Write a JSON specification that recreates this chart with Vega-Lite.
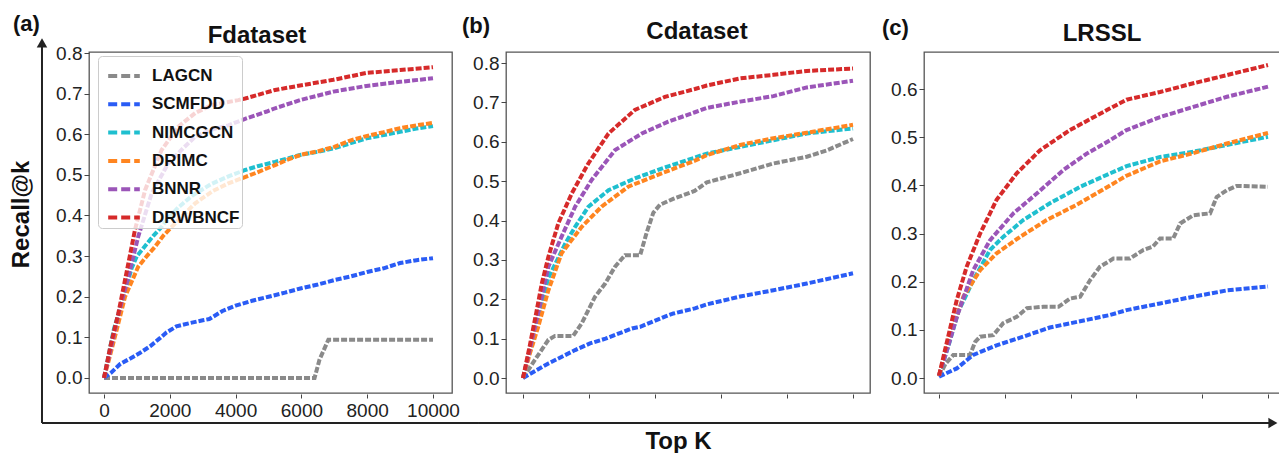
{
  "$schema": "https://vega.github.io/schema/vega-lite/v6.json",
  "padding": {"left": 8, "top": 12, "right": 0, "bottom": 0},
  "background": "white",
  "bounds": "flush",
  "spacing": 54,
  "resolve": {"scale": {"x": "independent", "y": "independent", "color": "independent"}, "legend": {"color": "independent"}},
  "config": {
    "font": "Liberation Sans",
    "view": {"stroke": "#555555", "strokeWidth": 1.3},
    "axis": {"labelFont": "Liberation Sans", "labelFontSize": 19, "labelColor": "#222222", "tickColor": "#444444", "tickSize": 5, "grid": false, "domain": false, "titleFont": "Liberation Sans", "titleFontWeight": "bold", "titleFontSize": 24, "titleColor": "#111111", "labelPadding": 2},
    "legend": {"labelFont": "Liberation Sans"},
    "text": {"font": "Liberation Sans", "fontWeight": "bold", "color": "#111111", "baseline": "alphabetic"}
  },
  "datasets": {
    "fd": [
      {"m": "LAGCN", "k": 0, "v": 0}, {"m": "LAGCN", "k": 6400, "v": 0}, {"m": "LAGCN", "k": 6550, "v": 0.045}, {"m": "LAGCN", "k": 6820, "v": 0.094}, {"m": "LAGCN", "k": 10000, "v": 0.094},
      {"m": "SCMFDD", "k": 0, "v": 0}, {"m": "SCMFDD", "k": 200, "v": 0.012}, {"m": "SCMFDD", "k": 500, "v": 0.035}, {"m": "SCMFDD", "k": 800, "v": 0.048}, {"m": "SCMFDD", "k": 1100, "v": 0.062}, {"m": "SCMFDD", "k": 1400, "v": 0.078}, {"m": "SCMFDD", "k": 1700, "v": 0.098}, {"m": "SCMFDD", "k": 1900, "v": 0.112}, {"m": "SCMFDD", "k": 2200, "v": 0.127}, {"m": "SCMFDD", "k": 2600, "v": 0.135}, {"m": "SCMFDD", "k": 3000, "v": 0.142}, {"m": "SCMFDD", "k": 3200, "v": 0.145}, {"m": "SCMFDD", "k": 3600, "v": 0.165}, {"m": "SCMFDD", "k": 4000, "v": 0.178}, {"m": "SCMFDD", "k": 4500, "v": 0.19}, {"m": "SCMFDD", "k": 5000, "v": 0.2}, {"m": "SCMFDD", "k": 5500, "v": 0.21}, {"m": "SCMFDD", "k": 6000, "v": 0.221}, {"m": "SCMFDD", "k": 6500, "v": 0.23}, {"m": "SCMFDD", "k": 7000, "v": 0.241}, {"m": "SCMFDD", "k": 7500, "v": 0.25}, {"m": "SCMFDD", "k": 8000, "v": 0.261}, {"m": "SCMFDD", "k": 8500, "v": 0.27}, {"m": "SCMFDD", "k": 9000, "v": 0.283}, {"m": "SCMFDD", "k": 9500, "v": 0.29}, {"m": "SCMFDD", "k": 10000, "v": 0.295},
      {"m": "NIMCGCN", "k": 0, "v": 0}, {"m": "NIMCGCN", "k": 150, "v": 0.06}, {"m": "NIMCGCN", "k": 300, "v": 0.12}, {"m": "NIMCGCN", "k": 540, "v": 0.185}, {"m": "NIMCGCN", "k": 840, "v": 0.27}, {"m": "NIMCGCN", "k": 1000, "v": 0.3}, {"m": "NIMCGCN", "k": 1250, "v": 0.325}, {"m": "NIMCGCN", "k": 1500, "v": 0.35}, {"m": "NIMCGCN", "k": 1750, "v": 0.372}, {"m": "NIMCGCN", "k": 2000, "v": 0.398}, {"m": "NIMCGCN", "k": 2260, "v": 0.42}, {"m": "NIMCGCN", "k": 2700, "v": 0.45}, {"m": "NIMCGCN", "k": 3270, "v": 0.478}, {"m": "NIMCGCN", "k": 3800, "v": 0.497}, {"m": "NIMCGCN", "k": 4290, "v": 0.512}, {"m": "NIMCGCN", "k": 4700, "v": 0.522}, {"m": "NIMCGCN", "k": 5200, "v": 0.532}, {"m": "NIMCGCN", "k": 5960, "v": 0.549}, {"m": "NIMCGCN", "k": 6500, "v": 0.557}, {"m": "NIMCGCN", "k": 6970, "v": 0.565}, {"m": "NIMCGCN", "k": 7500, "v": 0.578}, {"m": "NIMCGCN", "k": 7980, "v": 0.59}, {"m": "NIMCGCN", "k": 8500, "v": 0.598}, {"m": "NIMCGCN", "k": 9000, "v": 0.606}, {"m": "NIMCGCN", "k": 9500, "v": 0.614}, {"m": "NIMCGCN", "k": 10000, "v": 0.62},
      {"m": "DRIMC", "k": 0, "v": 0}, {"m": "DRIMC", "k": 150, "v": 0.045}, {"m": "DRIMC", "k": 334, "v": 0.102}, {"m": "DRIMC", "k": 640, "v": 0.2}, {"m": "DRIMC", "k": 1040, "v": 0.274}, {"m": "DRIMC", "k": 1300, "v": 0.3}, {"m": "DRIMC", "k": 1550, "v": 0.323}, {"m": "DRIMC", "k": 1800, "v": 0.35}, {"m": "DRIMC", "k": 2060, "v": 0.372}, {"m": "DRIMC", "k": 2400, "v": 0.4}, {"m": "DRIMC", "k": 2770, "v": 0.43}, {"m": "DRIMC", "k": 3300, "v": 0.46}, {"m": "DRIMC", "k": 3780, "v": 0.479}, {"m": "DRIMC", "k": 4200, "v": 0.492}, {"m": "DRIMC", "k": 4590, "v": 0.504}, {"m": "DRIMC", "k": 5200, "v": 0.524}, {"m": "DRIMC", "k": 5600, "v": 0.538}, {"m": "DRIMC", "k": 6000, "v": 0.55}, {"m": "DRIMC", "k": 6500, "v": 0.558}, {"m": "DRIMC", "k": 7000, "v": 0.569}, {"m": "DRIMC", "k": 7500, "v": 0.585}, {"m": "DRIMC", "k": 8000, "v": 0.596}, {"m": "DRIMC", "k": 8500, "v": 0.605}, {"m": "DRIMC", "k": 9000, "v": 0.615}, {"m": "DRIMC", "k": 9500, "v": 0.622}, {"m": "DRIMC", "k": 10000, "v": 0.628},
      {"m": "BNNR", "k": 0, "v": 0}, {"m": "BNNR", "k": 200, "v": 0.07}, {"m": "BNNR", "k": 450, "v": 0.16}, {"m": "BNNR", "k": 740, "v": 0.249}, {"m": "BNNR", "k": 1040, "v": 0.348}, {"m": "BNNR", "k": 1450, "v": 0.455}, {"m": "BNNR", "k": 1950, "v": 0.528}, {"m": "BNNR", "k": 2400, "v": 0.565}, {"m": "BNNR", "k": 2770, "v": 0.594}, {"m": "BNNR", "k": 3300, "v": 0.612}, {"m": "BNNR", "k": 3780, "v": 0.622}, {"m": "BNNR", "k": 4290, "v": 0.638}, {"m": "BNNR", "k": 4950, "v": 0.656}, {"m": "BNNR", "k": 5200, "v": 0.664}, {"m": "BNNR", "k": 5960, "v": 0.684}, {"m": "BNNR", "k": 6970, "v": 0.705}, {"m": "BNNR", "k": 7980, "v": 0.719}, {"m": "BNNR", "k": 9000, "v": 0.729}, {"m": "BNNR", "k": 10000, "v": 0.738},
      {"m": "DRWBNCF", "k": 0, "v": 0}, {"m": "DRWBNCF", "k": 200, "v": 0.08}, {"m": "DRWBNCF", "k": 435, "v": 0.159}, {"m": "DRWBNCF", "k": 740, "v": 0.282}, {"m": "DRWBNCF", "k": 940, "v": 0.364}, {"m": "DRWBNCF", "k": 1250, "v": 0.463}, {"m": "DRWBNCF", "k": 1750, "v": 0.561}, {"m": "DRWBNCF", "k": 2260, "v": 0.619}, {"m": "DRWBNCF", "k": 2770, "v": 0.652}, {"m": "DRWBNCF", "k": 3270, "v": 0.672}, {"m": "DRWBNCF", "k": 4080, "v": 0.684}, {"m": "DRWBNCF", "k": 4290, "v": 0.688}, {"m": "DRWBNCF", "k": 5200, "v": 0.709}, {"m": "DRWBNCF", "k": 5960, "v": 0.72}, {"m": "DRWBNCF", "k": 6970, "v": 0.734}, {"m": "DRWBNCF", "k": 7980, "v": 0.751}, {"m": "DRWBNCF", "k": 9000, "v": 0.758}, {"m": "DRWBNCF", "k": 10000, "v": 0.765}
    ],
    "cd": [
      {"m": "LAGCN", "k": 0, "v": 0}, {"m": "LAGCN", "k": 360, "v": 0.046}, {"m": "LAGCN", "k": 770, "v": 0.097}, {"m": "LAGCN", "k": 970, "v": 0.107}, {"m": "LAGCN", "k": 1520, "v": 0.107}, {"m": "LAGCN", "k": 1780, "v": 0.139}, {"m": "LAGCN", "k": 2180, "v": 0.206}, {"m": "LAGCN", "k": 2490, "v": 0.24}, {"m": "LAGCN", "k": 2790, "v": 0.283}, {"m": "LAGCN", "k": 3090, "v": 0.312}, {"m": "LAGCN", "k": 3550, "v": 0.312}, {"m": "LAGCN", "k": 3750, "v": 0.37}, {"m": "LAGCN", "k": 3950, "v": 0.42}, {"m": "LAGCN", "k": 4150, "v": 0.44}, {"m": "LAGCN", "k": 4550, "v": 0.455}, {"m": "LAGCN", "k": 5200, "v": 0.475}, {"m": "LAGCN", "k": 5570, "v": 0.497}, {"m": "LAGCN", "k": 6580, "v": 0.52}, {"m": "LAGCN", "k": 7590, "v": 0.545}, {"m": "LAGCN", "k": 8600, "v": 0.562}, {"m": "LAGCN", "k": 9200, "v": 0.578}, {"m": "LAGCN", "k": 10000, "v": 0.607},
      {"m": "SCMFDD", "k": 0, "v": 0}, {"m": "SCMFDD", "k": 770, "v": 0.037}, {"m": "SCMFDD", "k": 1580, "v": 0.071}, {"m": "SCMFDD", "k": 2030, "v": 0.088}, {"m": "SCMFDD", "k": 2500, "v": 0.1}, {"m": "SCMFDD", "k": 3300, "v": 0.126}, {"m": "SCMFDD", "k": 3550, "v": 0.13}, {"m": "SCMFDD", "k": 4300, "v": 0.156}, {"m": "SCMFDD", "k": 4560, "v": 0.164}, {"m": "SCMFDD", "k": 5210, "v": 0.177}, {"m": "SCMFDD", "k": 5570, "v": 0.187}, {"m": "SCMFDD", "k": 6580, "v": 0.207}, {"m": "SCMFDD", "k": 7590, "v": 0.223}, {"m": "SCMFDD", "k": 8600, "v": 0.24}, {"m": "SCMFDD", "k": 10000, "v": 0.266},
      {"m": "NIMCGCN", "k": 0, "v": 0}, {"m": "NIMCGCN", "k": 300, "v": 0.1}, {"m": "NIMCGCN", "k": 500, "v": 0.17}, {"m": "NIMCGCN", "k": 770, "v": 0.255}, {"m": "NIMCGCN", "k": 1070, "v": 0.305}, {"m": "NIMCGCN", "k": 1270, "v": 0.34}, {"m": "NIMCGCN", "k": 1580, "v": 0.384}, {"m": "NIMCGCN", "k": 1980, "v": 0.435}, {"m": "NIMCGCN", "k": 2590, "v": 0.477}, {"m": "NIMCGCN", "k": 3390, "v": 0.507}, {"m": "NIMCGCN", "k": 4200, "v": 0.532}, {"m": "NIMCGCN", "k": 5210, "v": 0.56}, {"m": "NIMCGCN", "k": 5570, "v": 0.57}, {"m": "NIMCGCN", "k": 6580, "v": 0.587}, {"m": "NIMCGCN", "k": 7590, "v": 0.604}, {"m": "NIMCGCN", "k": 8600, "v": 0.621}, {"m": "NIMCGCN", "k": 10000, "v": 0.634},
      {"m": "DRIMC", "k": 0, "v": 0}, {"m": "DRIMC", "k": 200, "v": 0.06}, {"m": "DRIMC", "k": 460, "v": 0.13}, {"m": "DRIMC", "k": 770, "v": 0.223}, {"m": "DRIMC", "k": 1170, "v": 0.317}, {"m": "DRIMC", "k": 1780, "v": 0.384}, {"m": "DRIMC", "k": 2380, "v": 0.435}, {"m": "DRIMC", "k": 3190, "v": 0.486}, {"m": "DRIMC", "k": 4200, "v": 0.52}, {"m": "DRIMC", "k": 5210, "v": 0.552}, {"m": "DRIMC", "k": 5570, "v": 0.566}, {"m": "DRIMC", "k": 6580, "v": 0.592}, {"m": "DRIMC", "k": 7590, "v": 0.609}, {"m": "DRIMC", "k": 8600, "v": 0.623}, {"m": "DRIMC", "k": 10000, "v": 0.643},
      {"m": "BNNR", "k": 0, "v": 0}, {"m": "BNNR", "k": 200, "v": 0.07}, {"m": "BNNR", "k": 500, "v": 0.18}, {"m": "BNNR", "k": 770, "v": 0.283}, {"m": "BNNR", "k": 1170, "v": 0.359}, {"m": "BNNR", "k": 1580, "v": 0.435}, {"m": "BNNR", "k": 2080, "v": 0.503}, {"m": "BNNR", "k": 2790, "v": 0.579}, {"m": "BNNR", "k": 3600, "v": 0.621}, {"m": "BNNR", "k": 4400, "v": 0.651}, {"m": "BNNR", "k": 5210, "v": 0.675}, {"m": "BNNR", "k": 5570, "v": 0.686}, {"m": "BNNR", "k": 6580, "v": 0.702}, {"m": "BNNR", "k": 7590, "v": 0.716}, {"m": "BNNR", "k": 8600, "v": 0.738}, {"m": "BNNR", "k": 10000, "v": 0.755},
      {"m": "DRWBNCF", "k": 0, "v": 0}, {"m": "DRWBNCF", "k": 200, "v": 0.08}, {"m": "DRWBNCF", "k": 400, "v": 0.165}, {"m": "DRWBNCF", "k": 570, "v": 0.24}, {"m": "DRWBNCF", "k": 770, "v": 0.308}, {"m": "DRWBNCF", "k": 1070, "v": 0.393}, {"m": "DRWBNCF", "k": 1480, "v": 0.469}, {"m": "DRWBNCF", "k": 1980, "v": 0.545}, {"m": "DRWBNCF", "k": 2590, "v": 0.621}, {"m": "DRWBNCF", "k": 3390, "v": 0.681}, {"m": "DRWBNCF", "k": 4300, "v": 0.714}, {"m": "DRWBNCF", "k": 5210, "v": 0.734}, {"m": "DRWBNCF", "k": 5570, "v": 0.743}, {"m": "DRWBNCF", "k": 6580, "v": 0.761}, {"m": "DRWBNCF", "k": 7590, "v": 0.77}, {"m": "DRWBNCF", "k": 8600, "v": 0.78}, {"m": "DRWBNCF", "k": 10000, "v": 0.786}
    ],
    "lr": [
      {"m": "LAGCN", "k": 0, "v": 0.003}, {"m": "LAGCN", "k": 200, "v": 0.03}, {"m": "LAGCN", "k": 435, "v": 0.048}, {"m": "LAGCN", "k": 940, "v": 0.048}, {"m": "LAGCN", "k": 1100, "v": 0.075}, {"m": "LAGCN", "k": 1250, "v": 0.086}, {"m": "LAGCN", "k": 1650, "v": 0.089}, {"m": "LAGCN", "k": 1950, "v": 0.114}, {"m": "LAGCN", "k": 2360, "v": 0.127}, {"m": "LAGCN", "k": 2670, "v": 0.145}, {"m": "LAGCN", "k": 3170, "v": 0.148}, {"m": "LAGCN", "k": 3630, "v": 0.148}, {"m": "LAGCN", "k": 3980, "v": 0.165}, {"m": "LAGCN", "k": 4290, "v": 0.169}, {"m": "LAGCN", "k": 4590, "v": 0.203}, {"m": "LAGCN", "k": 4890, "v": 0.231}, {"m": "LAGCN", "k": 5300, "v": 0.248}, {"m": "LAGCN", "k": 5800, "v": 0.248}, {"m": "LAGCN", "k": 6210, "v": 0.266}, {"m": "LAGCN", "k": 6500, "v": 0.273}, {"m": "LAGCN", "k": 6720, "v": 0.29}, {"m": "LAGCN", "k": 7120, "v": 0.29}, {"m": "LAGCN", "k": 7330, "v": 0.321}, {"m": "LAGCN", "k": 7730, "v": 0.338}, {"m": "LAGCN", "k": 8240, "v": 0.342}, {"m": "LAGCN", "k": 8440, "v": 0.376}, {"m": "LAGCN", "k": 8750, "v": 0.39}, {"m": "LAGCN", "k": 9050, "v": 0.399}, {"m": "LAGCN", "k": 10000, "v": 0.397},
      {"m": "SCMFDD", "k": 0, "v": 0.003}, {"m": "SCMFDD", "k": 540, "v": 0.02}, {"m": "SCMFDD", "k": 1040, "v": 0.048}, {"m": "SCMFDD", "k": 1750, "v": 0.068}, {"m": "SCMFDD", "k": 2560, "v": 0.086}, {"m": "SCMFDD", "k": 3370, "v": 0.105}, {"m": "SCMFDD", "k": 4290, "v": 0.118}, {"m": "SCMFDD", "k": 5200, "v": 0.131}, {"m": "SCMFDD", "k": 5700, "v": 0.141}, {"m": "SCMFDD", "k": 6720, "v": 0.155}, {"m": "SCMFDD", "k": 7730, "v": 0.169}, {"m": "SCMFDD", "k": 8750, "v": 0.182}, {"m": "SCMFDD", "k": 10000, "v": 0.19},
      {"m": "NIMCGCN", "k": 0, "v": 0.005}, {"m": "NIMCGCN", "k": 300, "v": 0.07}, {"m": "NIMCGCN", "k": 600, "v": 0.14}, {"m": "NIMCGCN", "k": 1040, "v": 0.203}, {"m": "NIMCGCN", "k": 1550, "v": 0.266}, {"m": "NIMCGCN", "k": 1950, "v": 0.293}, {"m": "NIMCGCN", "k": 2560, "v": 0.328}, {"m": "NIMCGCN", "k": 3370, "v": 0.363}, {"m": "NIMCGCN", "k": 4290, "v": 0.397}, {"m": "NIMCGCN", "k": 5200, "v": 0.425}, {"m": "NIMCGCN", "k": 5700, "v": 0.44}, {"m": "NIMCGCN", "k": 6720, "v": 0.459}, {"m": "NIMCGCN", "k": 7730, "v": 0.47}, {"m": "NIMCGCN", "k": 8750, "v": 0.484}, {"m": "NIMCGCN", "k": 10000, "v": 0.501},
      {"m": "DRIMC", "k": 0, "v": 0.005}, {"m": "DRIMC", "k": 300, "v": 0.08}, {"m": "DRIMC", "k": 740, "v": 0.169}, {"m": "DRIMC", "k": 1250, "v": 0.224}, {"m": "DRIMC", "k": 1750, "v": 0.259}, {"m": "DRIMC", "k": 2460, "v": 0.293}, {"m": "DRIMC", "k": 3270, "v": 0.328}, {"m": "DRIMC", "k": 4190, "v": 0.36}, {"m": "DRIMC", "k": 5200, "v": 0.4}, {"m": "DRIMC", "k": 5700, "v": 0.42}, {"m": "DRIMC", "k": 6720, "v": 0.45}, {"m": "DRIMC", "k": 7730, "v": 0.467}, {"m": "DRIMC", "k": 8750, "v": 0.487}, {"m": "DRIMC", "k": 10000, "v": 0.509},
      {"m": "BNNR", "k": 0, "v": 0.005}, {"m": "BNNR", "k": 250, "v": 0.06}, {"m": "BNNR", "k": 540, "v": 0.127}, {"m": "BNNR", "k": 1040, "v": 0.224}, {"m": "BNNR", "k": 1550, "v": 0.286}, {"m": "BNNR", "k": 2260, "v": 0.342}, {"m": "BNNR", "k": 2970, "v": 0.383}, {"m": "BNNR", "k": 3780, "v": 0.432}, {"m": "BNNR", "k": 4490, "v": 0.466}, {"m": "BNNR", "k": 5200, "v": 0.494}, {"m": "BNNR", "k": 5700, "v": 0.515}, {"m": "BNNR", "k": 6720, "v": 0.542}, {"m": "BNNR", "k": 7730, "v": 0.563}, {"m": "BNNR", "k": 8750, "v": 0.584}, {"m": "BNNR", "k": 10000, "v": 0.605},
      {"m": "DRWBNCF", "k": 0, "v": 0.005}, {"m": "DRWBNCF", "k": 230, "v": 0.072}, {"m": "DRWBNCF", "k": 540, "v": 0.162}, {"m": "DRWBNCF", "k": 840, "v": 0.231}, {"m": "DRWBNCF", "k": 1250, "v": 0.3}, {"m": "DRWBNCF", "k": 1750, "v": 0.37}, {"m": "DRWBNCF", "k": 2360, "v": 0.425}, {"m": "DRWBNCF", "k": 3070, "v": 0.473}, {"m": "DRWBNCF", "k": 3980, "v": 0.515}, {"m": "DRWBNCF", "k": 5200, "v": 0.56}, {"m": "DRWBNCF", "k": 5700, "v": 0.578}, {"m": "DRWBNCF", "k": 6720, "v": 0.594}, {"m": "DRWBNCF", "k": 7730, "v": 0.612}, {"m": "DRWBNCF", "k": 8750, "v": 0.629}, {"m": "DRWBNCF", "k": 10000, "v": 0.65}
    ]
  },
  "hconcat": [
    {
      "width": 363, "height": 341,
      "layer": [
        {
          "data": {"name": "fd"},
          "mark": {"type": "line", "strokeWidth": 4, "strokeDash": [6, 2]},
          "encoding": {
            "x": {"field": "k", "type": "quantitative", "scale": {"domain": [-456, 10578], "nice": false, "zero": false}, "axis": {"values": [0, 2000, 4000, 6000, 8000, 10000], "format": "d", "title": null, "offset": 1, "tickSize": 4, "labelPadding": 3}},
            "y": {"field": "v", "type": "quantitative", "scale": {"domain": [-0.037, 0.8025], "nice": false, "zero": false}, "axis": {"values": [0, 0.1, 0.2, 0.3, 0.4, 0.5, 0.6, 0.7, 0.8], "format": ".1f", "title": "Recall@k", "titlePadding": 22, "titleY": 162}},
            "color": {"field": "m", "type": "nominal", "sort": null, "scale": {"domain": ["LAGCN", "SCMFDD", "NIMCGCN", "DRIMC", "BNNR", "DRWBNCF"], "range": ["#8a8a8a", "#2a5cf5", "#1fbfcf", "#ff8520", "#9b55b8", "#d62a2a"]},
              "legend": {"orient": "none", "legendX": 9, "legendY": 4, "title": null, "symbolType": "stroke", "symbolSize": 1000, "symbolStrokeWidth": 4, "symbolDash": [9, 4], "symbolOffset": 6, "labelFontSize": 17, "labelFontWeight": "bold", "labelColor": "#111111", "rowPadding": 2.3, "padding": 2, "fillColor": "rgba(255,255,255,0.8)", "strokeColor": "#cccccc", "cornerRadius": 4, "labelOffset": 10}}
          }
        },
        {"data": {"values": [{}]}, "mark": {"type": "rule", "color": "#222222", "strokeWidth": 2}, "encoding": {"x": {"datum": -1885}, "y": {"datum": 0.83}, "y2": {"datum": -0.111}}},
        {"data": {"values": [{}]}, "mark": {"type": "rule", "color": "#222222", "strokeWidth": 2}, "encoding": {"x": {"datum": -1885}, "x2": {"datum": 11398}, "y": {"datum": -0.1108}}},
        {"data": {"values": [{}]}, "mark": {"type": "point", "shape": "triangle-up", "filled": true, "color": "#222222", "size": 110, "opacity": 1}, "encoding": {"x": {"datum": -1885}, "y": {"datum": 0.825}}},
        {"data": {"values": [{}]}, "mark": {"type": "text", "text": "(a)", "fontSize": 22, "align": "left"}, "encoding": {"x": {"datum": -2766}, "y": {"datum": 0.854}}},
        {"data": {"values": [{}]}, "mark": {"type": "text", "text": "Fdataset", "fontSize": 24, "align": "center"}, "encoding": {"x": {"datum": 4650}, "y": {"datum": 0.8246}}}
      ]
    },
    {
      "width": 364, "height": 341,
      "layer": [
        {
          "data": {"name": "cd"},
          "mark": {"type": "line", "strokeWidth": 4, "strokeDash": [6, 2]},
          "encoding": {
            "x": {"field": "k", "type": "quantitative", "scale": {"domain": [-515, 10515], "nice": false, "zero": false}, "axis": {"values": [0, 2000, 4000, 6000, 8000, 10000], "labels": false, "title": "Top K", "offset": 1, "tickSize": 4, "titlePadding": 31, "titleX": 172}},
            "y": {"field": "v", "type": "quantitative", "scale": {"domain": [-0.038, 0.828], "nice": false, "zero": false}, "axis": {"values": [0, 0.1, 0.2, 0.3, 0.4, 0.5, 0.6, 0.7, 0.8], "format": ".1f", "title": null}},
            "color": {"field": "m", "type": "nominal", "sort": null, "scale": {"domain": ["LAGCN", "SCMFDD", "NIMCGCN", "DRIMC", "BNNR", "DRWBNCF"], "range": ["#8a8a8a", "#2a5cf5", "#1fbfcf", "#ff8520", "#9b55b8", "#d62a2a"]}, "legend": null}
          }
        },
        {"data": {"values": [{}]}, "mark": {"type": "rule", "color": "#222222", "strokeWidth": 2}, "encoding": {"x": {"datum": -1333}, "x2": {"datum": 11333}, "y": {"datum": -0.1143}}},
        {"data": {"values": [{}]}, "mark": {"type": "text", "text": "(b)", "fontSize": 22, "align": "left"}, "encoding": {"x": {"datum": -1848}, "y": {"datum": 0.876}}},
        {"data": {"values": [{}]}, "mark": {"type": "text", "text": "Cdataset", "fontSize": 24, "align": "center"}, "encoding": {"x": {"datum": 5273}, "y": {"datum": 0.861}}}
      ]
    },
    {
      "width": 363, "height": 341,
      "layer": [
        {
          "data": {"name": "lr"},
          "mark": {"type": "line", "strokeWidth": 4, "strokeDash": [6, 2]},
          "encoding": {
            "x": {"field": "k", "type": "quantitative", "scale": {"domain": [-456, 10578], "nice": false, "zero": false}, "axis": {"values": [0, 2000, 4000, 6000, 8000, 10000], "labels": false, "title": null, "offset": 1, "tickSize": 4}},
            "y": {"field": "v", "type": "quantitative", "scale": {"domain": [-0.031, 0.677], "nice": false, "zero": false}, "axis": {"values": [0, 0.1, 0.2, 0.3, 0.4, 0.5, 0.6], "format": ".1f", "title": null}},
            "color": {"field": "m", "type": "nominal", "sort": null, "scale": {"domain": ["LAGCN", "SCMFDD", "NIMCGCN", "DRIMC", "BNNR", "DRWBNCF"], "range": ["#8a8a8a", "#2a5cf5", "#1fbfcf", "#ff8520", "#9b55b8", "#d62a2a"]}, "legend": null}
          }
        },
        {"data": {"values": [{}]}, "mark": {"type": "rule", "color": "#222222", "strokeWidth": 2}, "encoding": {"x": {"datum": -1277}, "x2": {"datum": 10122}, "y": {"datum": -0.0934}}},
        {"data": {"values": [{}]}, "mark": {"type": "point", "shape": "triangle-right", "filled": true, "color": "#222222", "size": 110, "opacity": 1}, "encoding": {"x": {"datum": 10150}, "y": {"datum": -0.0934}}},
        {"data": {"values": [{}]}, "mark": {"type": "text", "text": "(c)", "fontSize": 22, "align": "left"}, "encoding": {"x": {"datum": -1733}, "y": {"datum": 0.712}}},
        {"data": {"values": [{}]}, "mark": {"type": "text", "text": "LRSSL", "fontSize": 24, "align": "center"}, "encoding": {"x": {"datum": 4954}, "y": {"datum": 0.7004}}}
      ]
    }
  ]
}
